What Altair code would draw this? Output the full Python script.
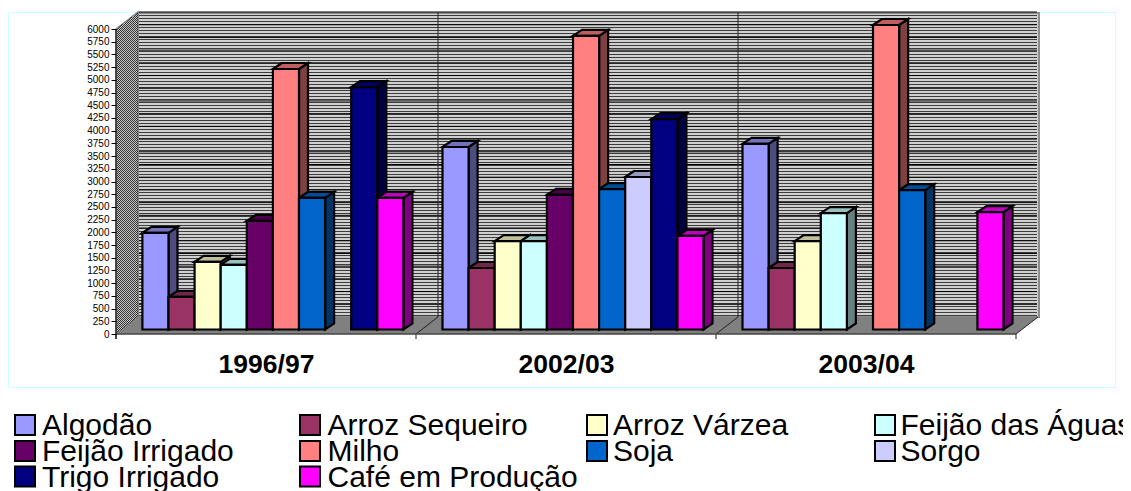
import altair as alt
import pandas as pd

# ---- data
seasons = ["1996/97", "2002/03", "2003/04"]
crops = ["Algodão", "Arroz Sequeiro", "Arroz Várzea", "Feijão das Águas", "Feijão Irrigado",
         "Milho", "Soja", "Sorgo", "Trigo Irrigado", "Café em Produção"]
colors = ["#9999ff", "#993366", "#ffffcc", "#ccffff", "#660066",
          "#ff8080", "#0066cc", "#ccccff", "#000080", "#ff00ff"]
values_9697 = [1900, 640, 1330, 1270, 2135, 5125, 2590, None, 4770, 2590]
values_0203 = [3590, 1210, 1740, 1740, 2650, 5775, 2760, 3000, 4140, 1840]
values_0304 = [3650, 1210, 1740, 2290, None, 5990, 2740, None, None, 2310]
series = [values_9697, values_0203, values_0304]
tick_values = list(range(0, 6001, 250))

# ---- layout
W, H = 1115, 483
PX = 305 / 6000           # pixels per unit on the value axis
def vy(page_y):           # page pixel -> value scale
    return (334 - page_y) / PX
def vx(page_x):
    return page_x - 8

xs = alt.Scale(domain=[0, W], range=[0, W], nice=False, zero=False)
ys = alt.Scale(domain=[vy(8 + H), vy(8)], nice=False, zero=False)
AX = alt.Axis(values=tick_values, offset=-108, domain=False, grid=False, tickSize=5, zindex=1,
              tickColor="#000000", tickWidth=1, labelColor="#000000", title=None, format="d",
              labelFont="Liberation Sans", labelFontSize=10, labelPadding=2, labelOverlap=False)
X = lambda f="x": alt.X(f"{f}:Q", scale=xs, axis=None)
Y = lambda f="y": alt.Y(f"{f}:Q", scale=ys, axis=AX, stack=None, title=None)
X2 = alt.X2("x2:Q")
Y2 = alt.Y2("y2:Q")
COL = alt.Color("c:N", scale=None, legend=None)

def shade(h, k):
    r, g, b = (int(h[i:i + 2], 16) for i in (1, 3, 5))
    return "#%02x%02x%02x" % (int(r * k), int(g * k), int(b * k))

BASE = vy(329.5)
DX, DY = 9, 6 / PX
PITCH = 26.1
GROUP_X = [142.4, 442.5, 742.5]

front, side, top = [], [], []
n = 0
for g, vals in enumerate(series):
    for i, v in enumerate(vals):
        if v is None:
            continue
        n += 1
        x0 = vx(GROUP_X[g] + i * PITCH)
        x1 = x0 + PITCH
        t = BASE + v
        c = colors[i]
        front.append(dict(x=x0, x2=x1, y=t, y2=BASE, c=c))
        side += [dict(id=n, x=x1, y=t, y2=BASE, c=shade(c, .5)),
                 dict(id=n, x=x1 + DX, y=t + DY, y2=BASE + DY, c=shade(c, .5))]
        top += [dict(id=n, y=t, x=x0, x2=x1, c=shade(c, .75)),
                dict(id=n, y=t + DY, x=x0 + DX, x2=x1 + DX, c=shade(c, .75))]

frame = pd.DataFrame([dict(x=vx(8.5), x2=vx(1115.5), y=vy(12.5), y2=vy(387.5))])
wall = pd.DataFrame([dict(x=vx(138), x2=vx(1039), y=vy(13), y2=vy(317))])
hatch = pd.DataFrame([dict(y=vy(p + .5)) for p in range(15, 317, 3)])
grid = pd.DataFrame([dict(y=vy(317) + t) for t in tick_values[1:]])
side_wall = pd.DataFrame([dict(id=0, x=vx(116), y=vy(29), y2=vy(334)),
                          dict(id=0, x=vx(138), y=vy(12), y2=vy(317))])
floor = pd.DataFrame([dict(id=0, y=vy(334), x=vx(116), x2=vx(1016)),
                      dict(id=0, y=vy(317), x=vx(138), x2=vx(1038))])
dith = []
for px in range(116, 138):
    yt = round(29 - (px - 116) * 17 / 22)
    yb = round(334 - (px - 116) * 17 / 22)
    if (px + yt) % 2:
        yt += 1
    dith.append(dict(x=vx(px + .5), y=vy(yt), y2=vy(yb)))
dith = pd.DataFrame(dith)
dividers = pd.DataFrame([dict(x=vx(p), y=vy(12), y2=vy(317)) for p in (438, 738)])
diag = pd.DataFrame([r for k, p in enumerate((416, 716, 1016)) for r in
                     (dict(id=k, x=vx(p), y=vy(334)), dict(id=k, x=vx(p + 22), y=vy(317)))])
xticks = pd.DataFrame([dict(x=vx(p), y=vy(334), y2=vy(339)) for p in (116, 416, 716, 1016)])
labels = pd.DataFrame([dict(x=vx(266.5 + 300 * k), y=vy(372.5), t=s) for k, s in enumerate(seasons)])

leg_x = [15, 300, 587, 875]
leg_tx = [42, 327.5, 613, 900.5]
leg_base = [435, 461, 486.5]
leg_box, leg_txt = [], []
for k, (name, c) in enumerate(zip(crops, colors)):
    col, row = k % 4, k // 4
    b = leg_base[row]
    leg_box.append(dict(x=vx(leg_x[col]), x2=vx(leg_x[col] + 20), y=vy(b - 20), y2=vy(b), c=c))
    leg_txt.append(dict(x=vx(leg_tx[col]), y=vy(b), t=name))

layers = [
    alt.Chart(frame).mark_rect(fill="#ffffff", stroke="#ccffff", strokeWidth=1).encode(X(), Y(), x2=X2, y2=Y2),
    alt.Chart(wall).mark_rect(fill="#d0d0d0", stroke="#8c8c8c", strokeWidth=2).encode(X(), Y(), x2=X2, y2=Y2),
    alt.Chart(hatch).mark_rule(stroke="#3c3c3c", strokeWidth=1).encode(
        x=alt.value(vx(139)), x2=alt.value(vx(1037)), y=Y()),
    alt.Chart(grid).mark_rule(stroke="#000000", strokeWidth=1).encode(
        x=alt.value(vx(139)), x2=alt.value(vx(1037)), y=Y()),
    alt.Chart(side_wall).mark_area(fill="#c8c8c8", stroke="#808080", strokeWidth=1.5).encode(
        X(), Y(), y2=Y2, detail="id:N"),
    alt.Chart(dith).mark_rule(stroke="#333333", strokeWidth=1, strokeDash=[1, 1]).encode(X(), Y(), y2=Y2),
    alt.Chart(floor).mark_area(orient="horizontal", fill="#808080").encode(X(), Y(), x2=X2, detail="id:N"),
    alt.Chart(dividers).mark_rule(stroke="#222222", strokeWidth=1).encode(X(), Y(), y2=Y2),
    alt.Chart(diag).mark_line(stroke="#222222", strokeWidth=1).encode(X(), Y(), detail="id:N"),
    alt.Chart(xticks).mark_rule(stroke="#666666", strokeWidth=1.5).encode(X(), Y(), y2=Y2),
    alt.Chart(pd.DataFrame([dict(x=vx(116), x2=vx(1016), y=vy(334))])).mark_rule(
        stroke="#444444", strokeWidth=1.5).encode(X(), Y(), x2=X2),
    alt.Chart(pd.DataFrame([dict(x=vx(116), y=vy(29), y2=vy(339))])).mark_rule(
        stroke="#333333", strokeWidth=1.5).encode(X(), Y(), y2=Y2),
    alt.Chart(pd.DataFrame(side)).mark_area(stroke="#000000", strokeWidth=2.2).encode(
        X(), Y(), y2=Y2, fill=COL, detail="id:N"),
    alt.Chart(pd.DataFrame(top)).mark_area(orient="horizontal", stroke="#000000", strokeWidth=2.2).encode(
        X(), Y(), x2=X2, fill=COL, detail="id:N"),
    alt.Chart(pd.DataFrame(front)).mark_rect(stroke="#000000", strokeWidth=2.2).encode(
        X(), Y(), x2=X2, y2=Y2, fill=COL),
    alt.Chart(labels).mark_text(font="Liberation Sans", fontWeight="bold", fontSize=26.5,
                                align="center", baseline="alphabetic", color="#000000").encode(
        X(), Y(), text="t:N"),
    alt.Chart(pd.DataFrame(leg_box)).mark_rect(stroke="#000000", strokeWidth=2).encode(
        X(), Y(), x2=X2, y2=Y2, fill=COL),
    alt.Chart(pd.DataFrame(leg_txt)).mark_text(font="Liberation Sans", fontSize=30, align="left",
                                               baseline="alphabetic", color="#000000").encode(
        X(), Y(), text="t:N"),
]

chart = alt.layer(*layers).properties(
    width=W, height=H, padding=0, autosize=alt.AutoSizeParams(type="none"),
    background="#ffffff",
).configure_view(stroke=None)

chart.save("out.html", embed_options={"renderer": "svg", "actions": False})
